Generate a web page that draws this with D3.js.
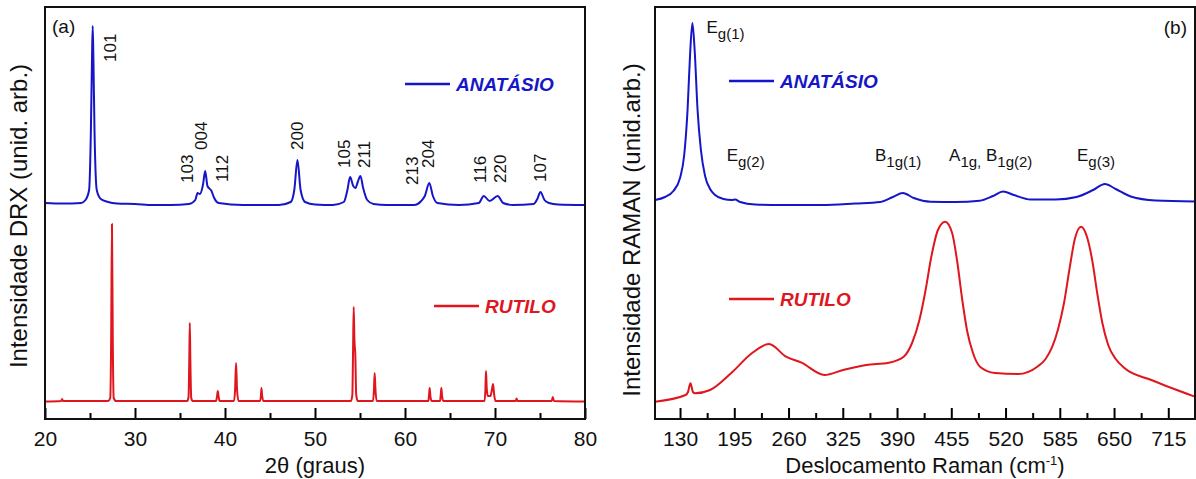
<!DOCTYPE html>
<html>
<head>
<meta charset="utf-8">
<script src="https://cdn.jsdelivr.net/npm/d3@7"></script>
<style>
  body { margin: 0; background: #fff; }
  svg { display: block; font-family: Arial, 'Liberation Sans', sans-serif; }
</style>
</head>
<body>
<div id="chart"></div>
<script>
// difratograma do anatásio: [2θ, intensidade (u.a.)]
const drxAnatasio = [
  [20, 216], [22, 215.5], [24, 216], [24.5, 219], [24.9, 229], [25.1, 289], [25.22, 359],
  [25.3, 393], [25.38, 359], [25.5, 289], [25.75, 229], [26.2, 220], [27, 217], [28, 215.5],
  [30, 215], [32, 214], [34, 214], [36, 215], [36.7, 219], [36.95, 226], [37.2, 225],
  [37.55, 234], [37.8, 248], [38.05, 233], [38.5, 228], [38.8, 221], [39.3, 216], [42, 214],
  [46, 214], [47.3, 217], [47.7, 229], [48.05, 259], [48.4, 229], [48.9, 217], [50, 214.5],
  [52, 214], [53.2, 217], [53.6, 229], [53.9, 242], [54.25, 233], [54.5, 231], [54.75, 237],
  [55.05, 243], [55.35, 231], [55.8, 219], [56.5, 215], [58, 214], [61, 214], [61.8, 218],
  [62.2, 223], [62.7, 236], [63.1, 223], [63.6, 216], [66, 214], [68.2, 216], [68.75, 223],
  [69.4, 218], [70.3, 223], [70.9, 216], [72, 214], [74.3, 215], [74.7, 220], [75.05, 227],
  [75.5, 219], [76, 216], [77, 214.5], [80, 214]
];

// difratograma do rutilo
const drxRutilo = [
  [20, 17.5], [21.8, 18], [21.9, 20], [22, 18], [27, 18], [27.25, 21], [27.35, 79], [27.44, 195],
  [27.53, 79], [27.63, 21], [27.9, 18], [35.8, 18], [35.95, 22], [36.03, 59], [36.09, 96],
  [36.15, 59], [36.25, 21], [36.4, 18], [39, 18], [39.12, 23], [39.2, 28], [39.28, 23],
  [39.4, 18], [41, 18], [41.12, 29], [41.23, 56], [41.34, 29], [41.5, 18], [43.9, 18],
  [44, 24], [44.05, 31], [44.12, 24], [44.25, 18], [54, 18], [54.15, 24], [54.23, 69],
  [54.3, 112], [54.38, 79], [54.48, 64], [54.58, 24], [54.75, 18], [56.45, 18], [56.55, 29],
  [56.63, 46], [56.72, 29], [56.85, 18], [62.6, 18], [62.68, 25], [62.74, 31], [62.82, 23],
  [62.95, 18], [63.9, 18], [63.98, 25], [64.04, 31], [64.12, 23], [64.25, 18], [68.85, 18],
  [68.93, 29], [69, 48], [69.08, 31], [69.2, 23], [69.5, 23], [69.65, 29], [69.78, 35],
  [69.9, 25], [70.05, 18], [72.3, 18], [72.4, 20.5], [72.5, 18], [76.3, 18], [76.42, 22],
  [76.55, 18], [80, 17.5]
];

// espectro Raman do anatásio: [cm-1, intensidade (u.a.)]
const ramanAnatasio = [
  [100, 219], [112, 222], [122, 228], [130, 241], [135, 264], [139, 309], [142, 364],
  [144.8, 396], [147.5, 369], [151, 309], [155, 269], [160, 243], [166, 230], [172, 224],
  [182, 220], [192, 219], [196, 219.5], [202, 217], [220, 214.5], [250, 214], [300, 214],
  [340, 215.5], [370, 217], [385, 222], [397, 226], [410, 221], [430, 217.3], [460, 217],
  [489, 218.3], [505, 223], [517, 227.5], [530, 224], [550, 219.5], [580, 219.5], [605, 222],
  [625, 229], [639, 235], [652, 230], [670, 222.5], [700, 218.5], [747, 217.5]
];

// espectro Raman do rutilo
const ramanRutilo = [
  [100, 17.3], [136.6, 24], [139.5, 27], [142.5, 35.7], [145.5, 27], [148, 25.7], [166, 29],
  [193, 47.3], [216, 65.7], [236.6, 75], [257, 62.3], [275.5, 56.3], [303, 44], [325.6, 49],
  [353, 54], [380, 56.3], [398, 62.3], [408, 76], [416.8, 99], [424, 128], [431, 162],
  [439, 189], [447.7, 197.3], [456, 186], [462, 158], [468, 120], [474, 88], [481, 66],
  [489.4, 52.3], [507.4, 46], [535, 45], [558, 52.3], [568, 60], [576, 72.3], [583, 90],
  [590, 115.7], [597, 152], [603, 180], [610.5, 192.3], [618, 181], [624, 158], [630, 125],
  [636, 96], [643, 74], [652, 60], [662.8, 50.7], [694.7, 39], [747, 22.3]
];

// índices de Miller: [texto, 2θ, intensidade onde começa o rótulo]
const drxPicos = [
  ['101', 27.2, 357], ['103', 35.74, 236], ['004', 37.3, 269], ['112', 39.63, 237],
  ['200', 48.03, 269], ['105', 53.26, 251], ['211', 55.44, 251], ['213', 60.74, 234],
  ['204', 62.59, 251], ['116', 68.33, 236], ['220', 70.56, 236], ['107', 75.0, 237]
];

// modos Raman: partes [normal, subscrito], cm-1, intensidade
const ramanModos = [
  [[['E', 'g(1)']], 161.7, 380],
  [[['E', 'g(2)']], 185.9, 252],
  [[['B', '1g(1)']], 363.6, 252],
  [[['A', '1g,'], [' B', '1g(2)']], 452.3, 252],
  [[['E', 'g(3)']], 605.6, 252]
];

const drxTicks = [20, 30, 40, 50, 60, 70, 80];
const drxMinor = [25, 35, 45, 55, 65, 75];
const ramanTicks = [130, 195, 260, 325, 390, 455, 520, 585, 650, 715];
const ramanMinor = [162.5, 227.5, 292.5, 357.5, 422.5, 487.5, 552.5, 617.5, 682.5];

const W = 1196, H = 479;
const plotTop = 7, plotBottom = 419;
const azul = '#1616c8', vermelho = '#e0161e';

const svg = d3.select('#chart')
  .append('svg')
  .attr('width', W)
  .attr('height', H);

svg.append('rect').attr('width', W).attr('height', H).attr('fill', '#fff');

// desenha um painel completo
const panel = (cfg) => {
  const x = d3.scaleLinear().domain(cfg.domain).range([cfg.left, cfg.right]);
  const y = d3.scaleLinear().domain([0, plotBottom - plotTop]).range([plotBottom, plotTop]);
  const g = svg.append('g');

  g.append('clipPath').attr('id', cfg.id)
    .append('rect')
    .attr('x', cfg.left).attr('y', plotTop)
    .attr('width', cfg.right - cfg.left).attr('height', plotBottom - plotTop);

  const line = d3.line()
    .x(d => x(d[0]))
    .y(d => y(d[1]))
    .curve(d3.curveMonotoneX);

  [[cfg.red, vermelho], [cfg.blue, azul]].forEach(([data, color]) => {
    g.append('path')
      .datum(data)
      .attr('clip-path', `url(#${cfg.id})`)
      .attr('fill', 'none')
      .attr('stroke', color)
      .attr('stroke-width', 2)
      .attr('stroke-linejoin', 'round')
      .attr('d', line);
  });

  // eixo x com marcas para dentro
  const ax = g.append('g')
    .attr('transform', `translate(0,${plotBottom})`)
    .call(d3.axisBottom(x).tickValues(cfg.ticks).tickSize(-11).tickPadding(12).tickSizeOuter(0));
  ax.select('.domain').remove();
  ax.selectAll('line').attr('stroke', '#000').attr('stroke-width', 2);
  ax.selectAll('text').attr('font-size', 21).attr('fill', '#111').attr('font-family', null);

  const am = g.append('g')
    .attr('transform', `translate(0,${plotBottom})`)
    .call(d3.axisBottom(x).tickValues(cfg.minor).tickSize(-6).tickFormat(''));
  am.select('.domain').remove();
  am.selectAll('line').attr('stroke', '#000').attr('stroke-width', 2);

  // moldura
  g.append('rect')
    .attr('x', cfg.left).attr('y', plotTop)
    .attr('width', cfg.right - cfg.left).attr('height', plotBottom - plotTop)
    .attr('fill', 'none')
    .attr('stroke', '#111')
    .attr('stroke-width', 2);

  return { x, y, g };
};

// legenda: traço + texto
const legenda = (g, x0, yc, texto, color) => {
  g.append('line')
    .attr('x1', x0).attr('x2', x0 + 45)
    .attr('y1', yc).attr('y2', yc)
    .attr('stroke', color).attr('stroke-width', 2.5);
  g.append('text')
    .attr('x', x0 + 51).attr('y', yc).attr('dy', '0.36em')
    .attr('font-size', 19).attr('font-weight', 'bold').attr('font-style', 'italic')
    .attr('fill', color)
    .text(texto);
};

// (a) DRX
const a = panel({
  id: 'clipA', domain: [20, 80], left: 45, right: 585,
  ticks: drxTicks, minor: drxMinor, blue: drxAnatasio, red: drxRutilo
});

a.g.selectAll('.hkl')
  .data(drxPicos)
  .join('text')
  .attr('class', 'hkl')
  .attr('transform', d => `translate(${a.x(d[1])},${a.y(d[2])}) rotate(-90)`)
  .attr('dy', '0.36em')
  .attr('font-size', 17)
  .attr('fill', '#111')
  .text(d => d[0]);

legenda(a.g, 405, 84, 'ANATÁSIO', azul);
legenda(a.g, 434, 306, 'RUTILO', vermelho);

a.g.append('text').attr('x', 52).attr('y', 26).attr('dy', '0.36em')
  .attr('font-size', 19).attr('fill', '#111').text('(a)');

a.g.append('text')
  .attr('x', 315).attr('y', 465).attr('dy', '0.36em')
  .attr('text-anchor', 'middle').attr('font-size', 22).attr('fill', '#111')
  .text('2θ (graus)');

a.g.append('text')
  .attr('transform', 'translate(18,216) rotate(-90)')
  .attr('dy', '0.36em')
  .attr('text-anchor', 'middle').attr('font-size', 24).attr('fill', '#111')
  .text('Intensidade DRX (unid. arb.)');

// (b) Raman
const b = panel({
  id: 'clipB', domain: [100, 747], left: 655, right: 1195,
  ticks: ramanTicks, minor: ramanMinor, blue: ramanAnatasio, red: ramanRutilo
});

ramanModos.forEach(([partes, cm, inten]) => {
  const t = b.g.append('text')
    .attr('x', b.x(cm)).attr('y', b.y(inten))
    .attr('font-size', 17).attr('fill', '#111');
  partes.forEach(([normal, sub]) => {
    t.append('tspan').attr('dy', t.selectAll('tspan').size() ? -6 : 0).text(normal);
    t.append('tspan').attr('dy', 6).attr('font-size', 15).text(sub);
  });
});

legenda(b.g, 729, 81, 'ANATÁSIO', azul);
legenda(b.g, 729, 299, 'RUTILO', vermelho);

b.g.append('text').attr('x', 1187).attr('y', 27).attr('dy', '0.36em')
  .attr('text-anchor', 'end').attr('font-size', 19).attr('fill', '#111').text('(b)');

const xt = b.g.append('text')
  .attr('x', 925).attr('y', 465).attr('dy', '0.36em')
  .attr('text-anchor', 'middle').attr('font-size', 22).attr('fill', '#111');
xt.append('tspan').text('Deslocamento Raman (cm');
xt.append('tspan').attr('dy', -8).attr('font-size', 13).text('-1');
xt.append('tspan').attr('dy', 8).text(')');

b.g.append('text')
  .attr('transform', 'translate(631,230) rotate(-90)')
  .attr('dy', '0.36em')
  .attr('text-anchor', 'middle').attr('font-size', 24).attr('fill', '#111')
  .text('Intensidade RAMAN (unid.arb.)');
</script>
</body>
</html>
